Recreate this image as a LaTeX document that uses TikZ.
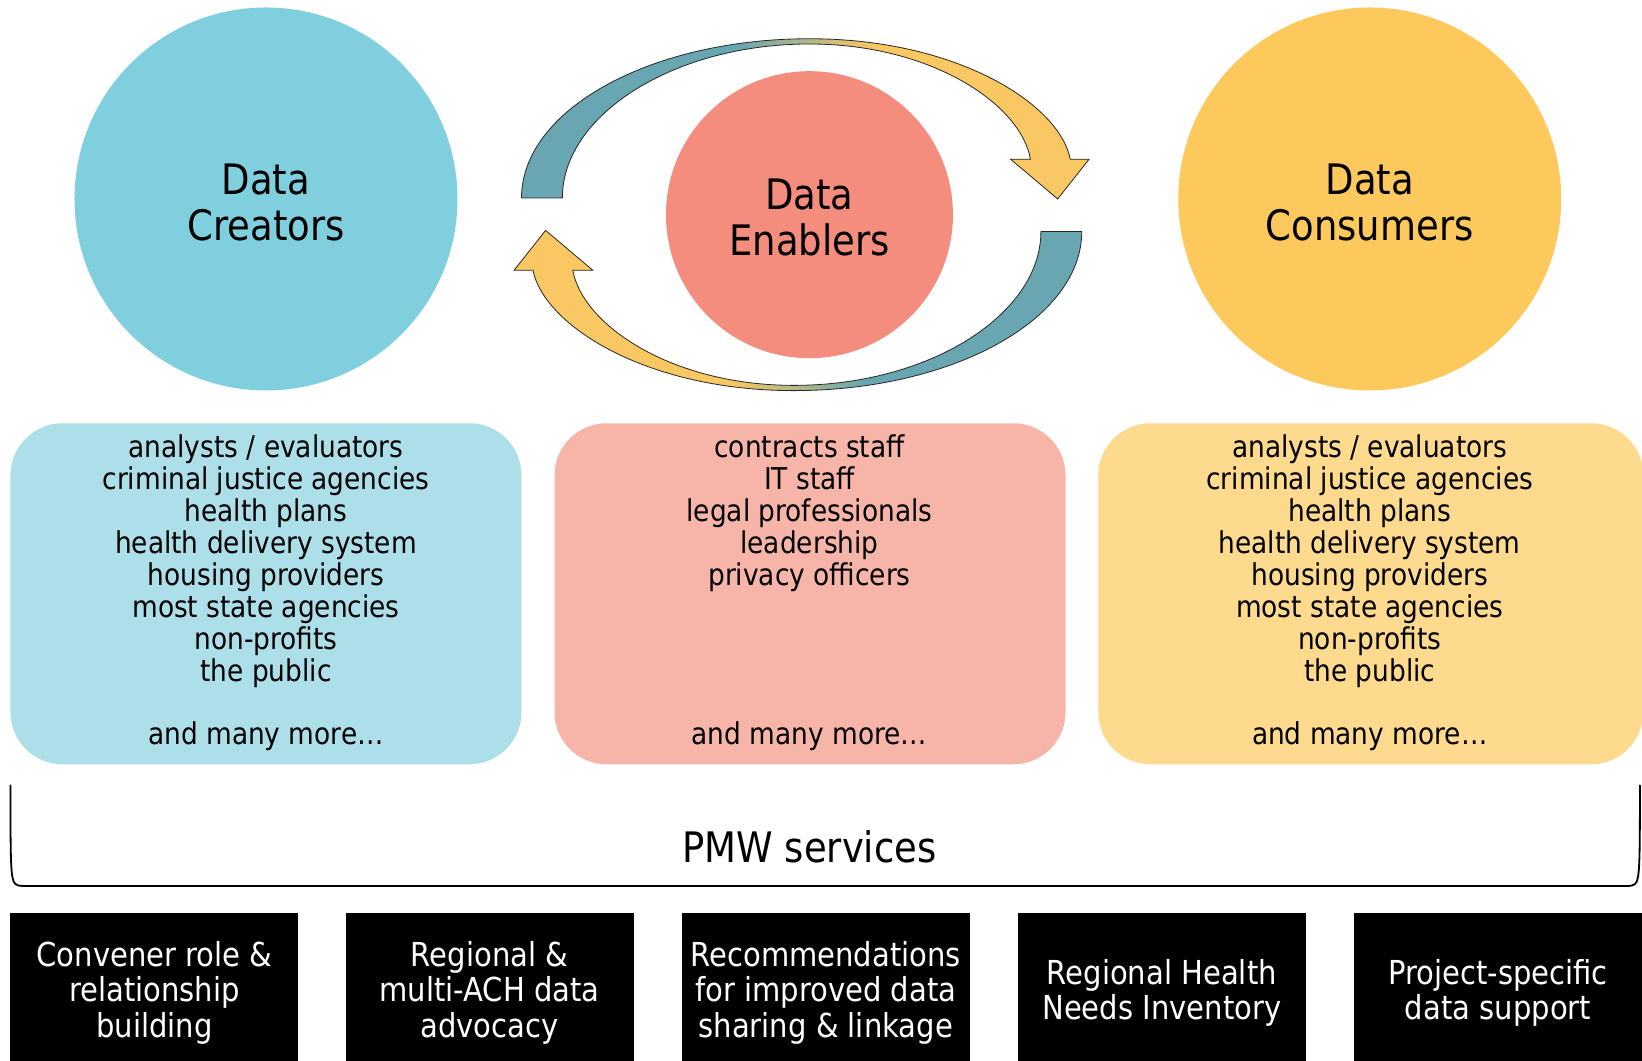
\documentclass[tikz,border=0pt]{standalone}
\usepackage{fontspec}
\setmainfont{DejaVu Sans}[FakeStretch=0.88]
\definecolor{cteal}{HTML}{68A6B2}
\definecolor{cyel}{HTML}{FAC862}
\definecolor{bluecirc}{HTML}{7FCFDF}
\definecolor{bluebox}{HTML}{ADDFE9}
\definecolor{redcirc}{HTML}{F48D7D}
\definecolor{redbox}{HTML}{F7B5AA}
\definecolor{yelcirc}{HTML}{FDC95C}
\definecolor{yelbox}{HTML}{FDDA8D}
\pgfdeclarehorizontalshading{toparrow}{100bp}{color(0bp)=(cteal); color(44bp)=(cteal); color(56bp)=(cyel); color(100bp)=(cyel)}
\pgfdeclarehorizontalshading{botarrow}{100bp}{color(0bp)=(cyel); color(44bp)=(cyel); color(56bp)=(cteal); color(100bp)=(cteal)}
\tikzset{
  bigcirc/.style={circle, inner sep=0pt},
  circtext/.style={align=center, inner sep=0pt, font=\fontsize{42}{46}\selectfont},
  listbox/.style={rectangle, rounded corners=52pt, inner sep=0pt, minimum height=341pt},
  listtext/.style={align=center, inner sep=0pt, font=\fontsize{30}{32}\selectfont},
  servbox/.style={rectangle, fill=black, inner sep=0pt, minimum width=288pt, minimum height=150pt},
  servtext/.style={text=white, inner sep=0pt, align=center, font=\fontsize{33}{35.5}\selectfont},
  cyclearrow/.style={draw=black!85, line width=0.8pt},
}
\begin{document}
\begin{tikzpicture}[x=1.0472pt, y=-1.0472pt]
\path[use as bounding box] (0,0) rectangle (1568,1013);
\clip (0,0) rectangle (1568,1013);

% circles
\node[bigcirc, fill=bluecirc, minimum size=383pt] (creators) at (254,190) {};
\node[bigcirc, fill=redcirc, minimum size=287pt] (enablers) at (773,205) {};
\node[bigcirc, fill=yelcirc, minimum size=383pt] (consumers) at (1308,190) {};
\node[circtext] (creatorslabel) at (254,193) {Data\\Creators};
\node[circtext] (enablerslabel) at (773,208) {Data\\Enablers};
\node[circtext] (consumerslabel) at (1308,193) {Data\\Consumers};

% cycle arrows
\shadedraw[cyclearrow, shading=toparrow] (498,189) .. controls (498,105) and (621,37) .. (773,37) .. controls (915,37) and (1012,100) .. (1022,152) -- (1040,152) -- (1010,190) -- (965,152) -- (984,152) .. controls (975,100) and (890,42) .. (773,42) .. controls (643,42) and (537,110) .. (537,189) -- cycle;
\shadedraw[cyclearrow, shading=botarrow] (1033,221) .. controls (1033,305) and (910,373) .. (758,373) .. controls (616,373) and (519,310) .. (509,258) -- (491,258) -- (521,220) -- (566,258) -- (547,258) .. controls (556,310) and (641,368) .. (758,368) .. controls (888,368) and (994,300) .. (994,221) -- cycle;

% list boxes
\node[listbox, fill=bluebox, minimum width=511pt] (creatorsbox) at (254,567) {};
\node[listbox, fill=redbox, minimum width=511pt] (enablersbox) at (773.5,567) {};
\node[listbox, fill=yelbox, minimum width=545pt] (consumersbox) at (1309,567) {};

\node[listtext] (creatorslist) at (254,536) {analysts / evaluators\\criminal justice agencies\\health plans\\health delivery system\\housing providers\\most state agencies\\non-profits\\the public};
\node[listtext] (creatorsmore) at (254,703) {and many more…};
\node[listtext] (enablerslist) at (773,490) {contracts staff\\IT staff\\legal professionals\\leadership\\privacy officers};
\node[listtext] (enablersmore) at (773,703) {and many more…};
\node[listtext] (consumerslist) at (1308,536) {analysts / evaluators\\criminal justice agencies\\health plans\\health delivery system\\housing providers\\most state agencies\\non-profits\\the public};
\node[listtext] (consumersmore) at (1308,703) {and many more…};

% bracket
\draw[line width=1.8pt, line cap=round] (10,750) .. controls (10,800) and (10,830) .. (12,838) .. controls (13,844) and (15,846) .. (22,846) -- (1554,846) .. controls (1561,846) and (1563,844) .. (1564,838) .. controls (1566,830) and (1566,800) .. (1566,750);
\node[font=\fontsize{42}{46}\selectfont, inner sep=0pt] (pmw) at (773,809) {PMW services};

% service boxes
\node[servbox] (convener) at (147.5,943) {};
\node[servbox] (regional) at (467.5,943) {};
\node[servbox] (recommend) at (788.5,943) {};
\node[servbox] (inventory) at (1109.5,943) {};
\node[servbox] (project) at (1430.5,943) {};
\node[servtext] (convenertext) at (147.5,948) {Convener role \&\\relationship\\building};
\node[servtext] (regionaltext) at (467.5,948) {Regional \&\\multi-ACH data\\advocacy};
\node[servtext] (recommendtext) at (788.5,948) {Recommendations\\for improved data\\sharing \& linkage};
\node[servtext] (inventorytext) at (1109.5,948) {Regional Health\\Needs Inventory};
\node[servtext] (projecttext) at (1430.5,948) {Project-specific\\data support};
\end{tikzpicture}
\end{document}
